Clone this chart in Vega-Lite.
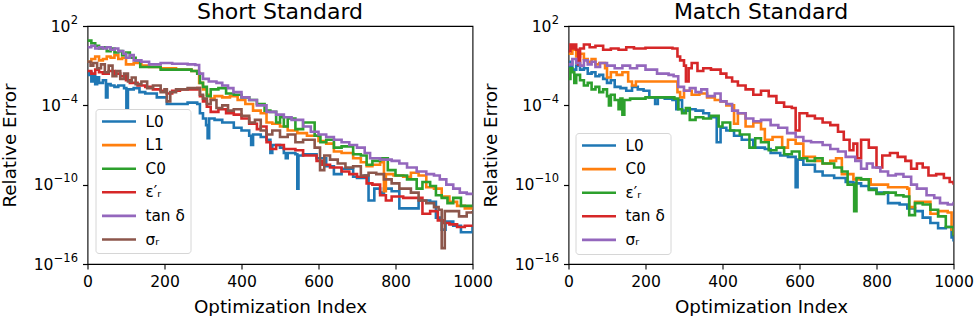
{
"$schema": "https://vega.github.io/schema/vega-lite/v6.json",
"autosize": {"type": "pad"},
"padding": {"left": -0.5, "top": 0, "right": 0, "bottom": 0},
"background": "white",
"spacing": 96,
"bounds": "flush",
"datasets": {
"short": [
{"s":"L0","i":0,"v":2e-2},{"s":"L0","i":5,"v":3.2e-2},{"s":"L0","i":10,"v":6.3e-3},{"s":"L0","i":15,"v":1.6e-2},{"s":"L0","i":20,"v":4e-3},{"s":"L0","i":25,"v":1.3e-2},{"s":"L0","i":30,"v":5e-3},{"s":"L0","i":40,"v":7.9e-3},{"s":"L0","i":48,"v":4e-4},{"s":"L0","i":52,"v":4e-3},{"s":"L0","i":60,"v":3.2e-3},{"s":"L0","i":70,"v":2.5e-3},{"s":"L0","i":80,"v":3.2e-3},{"s":"L0","i":95,"v":2e-3},{"s":"L0","i":101,"v":6.3e-5},{"s":"L0","i":105,"v":1.6e-3},{"s":"L0","i":120,"v":2e-3},{"s":"L0","i":135,"v":1e-3},{"s":"L0","i":150,"v":7.9e-4},{"s":"L0","i":180,"v":4e-4},{"s":"L0","i":206,"v":1.26e-4},{"s":"L0","i":230,"v":1.26e-4},{"s":"L0","i":260,"v":1.6e-4},{"s":"L0","i":285,"v":1.26e-4},{"s":"L0","i":292,"v":2.5e-5},{"s":"L0","i":300,"v":1e-5},{"s":"L0","i":308,"v":3.2e-6},{"s":"L0","i":312,"v":3.2e-7},{"s":"L0","i":316,"v":1e-5},{"s":"L0","i":330,"v":7.9e-6},{"s":"L0","i":350,"v":5e-6},{"s":"L0","i":380,"v":2e-6},{"s":"L0","i":400,"v":1.26e-6},{"s":"L0","i":420,"v":5e-7},{"s":"L0","i":425,"v":1e-7},{"s":"L0","i":430,"v":6.3e-7},{"s":"L0","i":450,"v":4e-7},{"s":"L0","i":465,"v":2.5e-7},{"s":"L0","i":475,"v":2.5e-8},{"s":"L0","i":480,"v":1e-7},{"s":"L0","i":500,"v":6.3e-8},{"s":"L0","i":510,"v":2.5e-8},{"s":"L0","i":515,"v":1e-8},{"s":"L0","i":520,"v":2.5e-8},{"s":"L0","i":540,"v":2e-8},{"s":"L0","i":545,"v":5e-11},{"s":"L0","i":548,"v":1.6e-8},{"s":"L0","i":560,"v":2e-8},{"s":"L0","i":595,"v":1e-8},{"s":"L0","i":620,"v":2.5e-9},{"s":"L0","i":640,"v":6.3e-10},{"s":"L0","i":660,"v":1.6e-9},{"s":"L0","i":690,"v":4e-10},{"s":"L0","i":700,"v":3.2e-10},{"s":"L0","i":720,"v":5e-10},{"s":"L0","i":730,"v":6.3e-12},{"s":"L0","i":745,"v":5e-11},{"s":"L0","i":760,"v":2.5e-11},{"s":"L0","i":770,"v":5e-11},{"s":"L0","i":790,"v":3.2e-11},{"s":"L0","i":810,"v":1.6e-12},{"s":"L0","i":835,"v":1.6e-12},{"s":"L0","i":860,"v":6.3e-12},{"s":"L0","i":890,"v":5e-12},{"s":"L0","i":905,"v":3.2e-13},{"s":"L0","i":920,"v":4e-14},{"s":"L0","i":930,"v":1.6e-13},{"s":"L0","i":950,"v":7.9e-14},{"s":"L0","i":970,"v":2.5e-14},{"s":"L0","i":990,"v":2.5e-14},{"s":"L0","i":1000,"v":6.3e-14},
{"s":"L1","i":0,"v":2e-1},{"s":"L1","i":10,"v":3.2e-1},{"s":"L1","i":20,"v":5e-1},{"s":"L1","i":30,"v":2.5e-1},{"s":"L1","i":40,"v":3.2e-1},{"s":"L1","i":50,"v":5e-1},{"s":"L1","i":60,"v":4e-1},{"s":"L1","i":70,"v":6.3e-1},{"s":"L1","i":80,"v":3.2e-1},{"s":"L1","i":90,"v":4e-1},{"s":"L1","i":100,"v":1.26e-1},{"s":"L1","i":120,"v":1.6e-1},{"s":"L1","i":140,"v":1e-1},{"s":"L1","i":160,"v":7.9e-2},{"s":"L1","i":190,"v":6.3e-2},{"s":"L1","i":230,"v":5e-2},{"s":"L1","i":270,"v":4e-2},{"s":"L1","i":285,"v":3.2e-2},{"s":"L1","i":290,"v":5e-3},{"s":"L1","i":300,"v":1.6e-3},{"s":"L1","i":310,"v":6.3e-4},{"s":"L1","i":320,"v":3.2e-4},{"s":"L1","i":330,"v":5e-4},{"s":"L1","i":350,"v":4e-4},{"s":"L1","i":370,"v":5e-4},{"s":"L1","i":390,"v":2.5e-4},{"s":"L1","i":410,"v":1.26e-4},{"s":"L1","i":430,"v":4e-5},{"s":"L1","i":450,"v":2.5e-5},{"s":"L1","i":465,"v":5e-6},{"s":"L1","i":480,"v":4e-6},{"s":"L1","i":500,"v":2.5e-6},{"s":"L1","i":520,"v":1.26e-6},{"s":"L1","i":545,"v":7.9e-7},{"s":"L1","i":570,"v":5e-7},{"s":"L1","i":600,"v":2e-7},{"s":"L1","i":620,"v":1.26e-7},{"s":"L1","i":640,"v":3.2e-8},{"s":"L1","i":660,"v":2.5e-8},{"s":"L1","i":690,"v":1e-8},{"s":"L1","i":710,"v":5e-9},{"s":"L1","i":725,"v":2.5e-9},{"s":"L1","i":740,"v":3.2e-9},{"s":"L1","i":760,"v":5e-9},{"s":"L1","i":770,"v":3.2e-11},{"s":"L1","i":775,"v":6.3e-10},{"s":"L1","i":795,"v":5e-10},{"s":"L1","i":820,"v":4e-10},{"s":"L1","i":840,"v":7.9e-10},{"s":"L1","i":860,"v":5e-10},{"s":"L1","i":880,"v":6.3e-11},{"s":"L1","i":900,"v":5e-11},{"s":"L1","i":920,"v":1.26e-11},{"s":"L1","i":940,"v":5e-12},{"s":"L1","i":960,"v":2.5e-12},{"s":"L1","i":980,"v":1.6e-12},{"s":"L1","i":1000,"v":1.26e-12},
{"s":"C0","i":0,"v":7.9},{"s":"C0","i":10,"v":5},{"s":"C0","i":20,"v":3.2},{"s":"C0","i":30,"v":2},{"s":"C0","i":40,"v":2.5},{"s":"C0","i":50,"v":1.26},{"s":"C0","i":60,"v":2},{"s":"C0","i":70,"v":1},{"s":"C0","i":80,"v":1.26},{"s":"C0","i":90,"v":6.3e-1},{"s":"C0","i":100,"v":1},{"s":"C0","i":110,"v":4e-1},{"s":"C0","i":125,"v":2.5e-1},{"s":"C0","i":137,"v":7.9e-2},{"s":"C0","i":160,"v":7.9e-2},{"s":"C0","i":190,"v":5e-2},{"s":"C0","i":230,"v":5e-2},{"s":"C0","i":270,"v":4e-2},{"s":"C0","i":285,"v":2.5e-2},{"s":"C0","i":292,"v":5e-3},{"s":"C0","i":300,"v":2.5e-3},{"s":"C0","i":310,"v":5e-4},{"s":"C0","i":320,"v":1.6e-3},{"s":"C0","i":340,"v":2e-3},{"s":"C0","i":360,"v":7.9e-4},{"s":"C0","i":380,"v":6.3e-4},{"s":"C0","i":400,"v":4e-4},{"s":"C0","i":420,"v":2.5e-4},{"s":"C0","i":440,"v":1.26e-4},{"s":"C0","i":460,"v":4e-5},{"s":"C0","i":475,"v":3.2e-5},{"s":"C0","i":490,"v":5e-6},{"s":"C0","i":500,"v":1.26e-5},{"s":"C0","i":510,"v":2.5e-6},{"s":"C0","i":520,"v":1e-5},{"s":"C0","i":540,"v":1.6e-6},{"s":"C0","i":560,"v":5e-6},{"s":"C0","i":590,"v":5e-7},{"s":"C0","i":605,"v":1.6e-7},{"s":"C0","i":620,"v":2.5e-7},{"s":"C0","i":640,"v":6.3e-8},{"s":"C0","i":660,"v":7.9e-8},{"s":"C0","i":690,"v":2e-8},{"s":"C0","i":710,"v":1.6e-8},{"s":"C0","i":725,"v":3.2e-9},{"s":"C0","i":740,"v":6.3e-9},{"s":"C0","i":760,"v":1e-8},{"s":"C0","i":780,"v":1.26e-9},{"s":"C0","i":800,"v":5e-10},{"s":"C0","i":830,"v":2.5e-10},{"s":"C0","i":855,"v":5e-11},{"s":"C0","i":870,"v":1.6e-10},{"s":"C0","i":890,"v":7.9e-11},{"s":"C0","i":905,"v":1.6e-11},{"s":"C0","i":920,"v":1e-11},{"s":"C0","i":935,"v":4e-12},{"s":"C0","i":950,"v":1e-11},{"s":"C0","i":970,"v":2.5e-12},{"s":"C0","i":1000,"v":2.5e-12},
{"s":"eps","i":0,"v":4e-2},{"s":"eps","i":10,"v":2.5e-2},{"s":"eps","i":20,"v":5e-2},{"s":"eps","i":30,"v":3.2e-2},{"s":"eps","i":40,"v":2.5e-2},{"s":"eps","i":55,"v":4e-2},{"s":"eps","i":70,"v":2.5e-2},{"s":"eps","i":85,"v":1.6e-2},{"s":"eps","i":100,"v":7.9e-3},{"s":"eps","i":110,"v":5e-3},{"s":"eps","i":130,"v":3.2e-3},{"s":"eps","i":150,"v":2.5e-3},{"s":"eps","i":170,"v":1.6e-3},{"s":"eps","i":190,"v":1.26e-3},{"s":"eps","i":206,"v":7.9e-4},{"s":"eps","i":220,"v":1.26e-3},{"s":"eps","i":240,"v":1.6e-3},{"s":"eps","i":260,"v":1.6e-3},{"s":"eps","i":285,"v":2e-3},{"s":"eps","i":292,"v":5e-4},{"s":"eps","i":300,"v":2e-4},{"s":"eps","i":310,"v":7.9e-5},{"s":"eps","i":320,"v":3.2e-5},{"s":"eps","i":340,"v":5e-5},{"s":"eps","i":360,"v":2.5e-5},{"s":"eps","i":380,"v":2e-5},{"s":"eps","i":400,"v":1e-5},{"s":"eps","i":420,"v":4e-6},{"s":"eps","i":440,"v":1.6e-6},{"s":"eps","i":450,"v":2.5e-6},{"s":"eps","i":465,"v":1.6e-7},{"s":"eps","i":475,"v":5e-8},{"s":"eps","i":490,"v":1e-7},{"s":"eps","i":510,"v":5e-8},{"s":"eps","i":540,"v":4e-8},{"s":"eps","i":560,"v":1.6e-8},{"s":"eps","i":595,"v":6.3e-9},{"s":"eps","i":610,"v":3.2e-9},{"s":"eps","i":630,"v":2e-9},{"s":"eps","i":660,"v":1e-9},{"s":"eps","i":680,"v":6.3e-10},{"s":"eps","i":700,"v":4e-10},{"s":"eps","i":725,"v":1.26e-10},{"s":"eps","i":740,"v":1e-10},{"s":"eps","i":760,"v":1.6e-11},{"s":"eps","i":775,"v":6.3e-12},{"s":"eps","i":790,"v":1.26e-11},{"s":"eps","i":820,"v":1e-11},{"s":"eps","i":850,"v":1e-11},{"s":"eps","i":870,"v":6.3e-13},{"s":"eps","i":890,"v":1e-12},{"s":"eps","i":910,"v":2e-13},{"s":"eps","i":925,"v":1.26e-13},{"s":"eps","i":940,"v":1e-13},{"s":"eps","i":960,"v":6.3e-14},{"s":"eps","i":980,"v":7.9e-14},{"s":"eps","i":1000,"v":6.3e-14},
{"s":"tan","i":0,"v":2.5},{"s":"tan","i":10,"v":3.2},{"s":"tan","i":20,"v":2},{"s":"tan","i":30,"v":2.5},{"s":"tan","i":40,"v":2},{"s":"tan","i":50,"v":2.5},{"s":"tan","i":60,"v":1.6},{"s":"tan","i":70,"v":2},{"s":"tan","i":80,"v":1.26},{"s":"tan","i":93,"v":7.9e-1},{"s":"tan","i":100,"v":4e-1},{"s":"tan","i":110,"v":6.3e-1},{"s":"tan","i":120,"v":2.5e-1},{"s":"tan","i":140,"v":2e-1},{"s":"tan","i":160,"v":1.26e-1},{"s":"tan","i":190,"v":1.6e-1},{"s":"tan","i":220,"v":1.4e-1},{"s":"tan","i":260,"v":1.26e-1},{"s":"tan","i":280,"v":1.12e-1},{"s":"tan","i":290,"v":2.5e-2},{"s":"tan","i":300,"v":1e-2},{"s":"tan","i":315,"v":6.3e-3},{"s":"tan","i":335,"v":5e-3},{"s":"tan","i":350,"v":3.2e-3},{"s":"tan","i":365,"v":2e-3},{"s":"tan","i":379,"v":1e-3},{"s":"tan","i":400,"v":4e-4},{"s":"tan","i":420,"v":2.5e-4},{"s":"tan","i":440,"v":1e-4},{"s":"tan","i":465,"v":3.2e-5},{"s":"tan","i":490,"v":2e-5},{"s":"tan","i":510,"v":1.26e-5},{"s":"tan","i":530,"v":7.9e-6},{"s":"tan","i":560,"v":2.5e-6},{"s":"tan","i":580,"v":1e-6},{"s":"tan","i":600,"v":6.3e-7},{"s":"tan","i":620,"v":4e-7},{"s":"tan","i":640,"v":2.5e-7},{"s":"tan","i":660,"v":1.6e-7},{"s":"tan","i":680,"v":1e-7},{"s":"tan","i":700,"v":6.3e-8},{"s":"tan","i":720,"v":2.5e-8},{"s":"tan","i":734,"v":1e-8},{"s":"tan","i":760,"v":7.9e-9},{"s":"tan","i":790,"v":6.3e-9},{"s":"tan","i":810,"v":4e-9},{"s":"tan","i":830,"v":2e-9},{"s":"tan","i":855,"v":1e-9},{"s":"tan","i":880,"v":6.3e-10},{"s":"tan","i":900,"v":5e-10},{"s":"tan","i":915,"v":2.5e-10},{"s":"tan","i":932,"v":1e-10},{"s":"tan","i":950,"v":5e-11},{"s":"tan","i":967,"v":2.5e-11},{"s":"tan","i":985,"v":2e-11},{"s":"tan","i":1000,"v":1.6e-11},
{"s":"sig","i":0,"v":2e-1},{"s":"sig","i":8,"v":1e-1},{"s":"sig","i":15,"v":1.6e-1},{"s":"sig","i":25,"v":6.3e-2},{"s":"sig","i":35,"v":1.26e-1},{"s":"sig","i":45,"v":3.2e-2},{"s":"sig","i":55,"v":1e-1},{"s":"sig","i":65,"v":1.6e-2},{"s":"sig","i":75,"v":4e-2},{"s":"sig","i":85,"v":1e-2},{"s":"sig","i":95,"v":2.5e-2},{"s":"sig","i":105,"v":6.3e-3},{"s":"sig","i":115,"v":1.26e-2},{"s":"sig","i":125,"v":4e-3},{"s":"sig","i":140,"v":6.3e-3},{"s":"sig","i":155,"v":2e-3},{"s":"sig","i":170,"v":3.2e-3},{"s":"sig","i":190,"v":1e-3},{"s":"sig","i":200,"v":1.6e-3},{"s":"sig","i":206,"v":2e-4},{"s":"sig","i":215,"v":1e-3},{"s":"sig","i":230,"v":1.6e-3},{"s":"sig","i":260,"v":2e-3},{"s":"sig","i":285,"v":2e-3},{"s":"sig","i":292,"v":6.3e-4},{"s":"sig","i":300,"v":3.2e-4},{"s":"sig","i":310,"v":1.26e-4},{"s":"sig","i":320,"v":2.5e-4},{"s":"sig","i":335,"v":6.3e-5},{"s":"sig","i":350,"v":1e-4},{"s":"sig","i":365,"v":4e-5},{"s":"sig","i":380,"v":5e-5},{"s":"sig","i":400,"v":1.6e-5},{"s":"sig","i":420,"v":5e-6},{"s":"sig","i":435,"v":7.9e-6},{"s":"sig","i":450,"v":1.26e-6},{"s":"sig","i":465,"v":6.3e-7},{"s":"sig","i":480,"v":1.26e-6},{"s":"sig","i":500,"v":4e-7},{"s":"sig","i":520,"v":6.3e-7},{"s":"sig","i":540,"v":1.6e-7},{"s":"sig","i":560,"v":2.5e-7},{"s":"sig","i":590,"v":6.3e-8},{"s":"sig","i":604,"v":1.26e-9},{"s":"sig","i":615,"v":1.6e-8},{"s":"sig","i":630,"v":7.9e-9},{"s":"sig","i":650,"v":4e-9},{"s":"sig","i":670,"v":2e-9},{"s":"sig","i":690,"v":2.5e-9},{"s":"sig","i":710,"v":5e-10},{"s":"sig","i":730,"v":7.9e-10},{"s":"sig","i":750,"v":6.3e-10},{"s":"sig","i":770,"v":2.5e-10},{"s":"sig","i":790,"v":1.26e-10},{"s":"sig","i":810,"v":5e-11},{"s":"sig","i":840,"v":2.5e-11},{"s":"sig","i":860,"v":6.3e-12},{"s":"sig","i":880,"v":4e-12},{"s":"sig","i":900,"v":2e-12},{"s":"sig","i":912,"v":1.26e-12},{"s":"sig","i":920,"v":1.6e-15},{"s":"sig","i":928,"v":1e-12},{"s":"sig","i":945,"v":1e-12},{"s":"sig","i":965,"v":4e-13},{"s":"sig","i":985,"v":7.9e-13},{"s":"sig","i":1000,"v":1e-12}
],
"match": [
{"s":"L0","i":0,"v":7.9e-2},{"s":"L0","i":5,"v":2e-1},{"s":"L0","i":10,"v":5e-2},{"s":"L0","i":20,"v":1e-1},{"s":"L0","i":30,"v":5e-2},{"s":"L0","i":40,"v":6.3e-2},{"s":"L0","i":50,"v":2.5e-2},{"s":"L0","i":60,"v":3.2e-2},{"s":"L0","i":70,"v":1.6e-2},{"s":"L0","i":80,"v":2e-2},{"s":"L0","i":90,"v":1e-2},{"s":"L0","i":100,"v":5e-3},{"s":"L0","i":110,"v":7.9e-3},{"s":"L0","i":120,"v":2.5e-3},{"s":"L0","i":135,"v":2e-3},{"s":"L0","i":150,"v":1.26e-3},{"s":"L0","i":165,"v":2.5e-3},{"s":"L0","i":180,"v":1.6e-3},{"s":"L0","i":195,"v":1.26e-3},{"s":"L0","i":210,"v":4e-4},{"s":"L0","i":225,"v":1.26e-4},{"s":"L0","i":232,"v":4e-4},{"s":"L0","i":250,"v":3.2e-4},{"s":"L0","i":270,"v":2.5e-4},{"s":"L0","i":280,"v":5e-5},{"s":"L0","i":285,"v":2.5e-4},{"s":"L0","i":295,"v":4e-5},{"s":"L0","i":310,"v":5e-5},{"s":"L0","i":330,"v":4e-5},{"s":"L0","i":350,"v":2.5e-5},{"s":"L0","i":365,"v":1.26e-5},{"s":"L0","i":385,"v":1.6e-7},{"s":"L0","i":395,"v":2e-6},{"s":"L0","i":410,"v":1.26e-6},{"s":"L0","i":430,"v":5e-7},{"s":"L0","i":450,"v":2.5e-7},{"s":"L0","i":480,"v":6.3e-8},{"s":"L0","i":510,"v":5e-8},{"s":"L0","i":525,"v":2.5e-8},{"s":"L0","i":550,"v":1.6e-8},{"s":"L0","i":570,"v":1.26e-8},{"s":"L0","i":590,"v":6.3e-11},{"s":"L0","i":595,"v":7.9e-9},{"s":"L0","i":610,"v":3.2e-9},{"s":"L0","i":640,"v":1e-9},{"s":"L0","i":660,"v":5e-10},{"s":"L0","i":690,"v":3.2e-10},{"s":"L0","i":720,"v":1.6e-10},{"s":"L0","i":740,"v":1.26e-10},{"s":"L0","i":760,"v":7.9e-11},{"s":"L0","i":780,"v":5e-11},{"s":"L0","i":800,"v":2.5e-11},{"s":"L0","i":830,"v":4e-12},{"s":"L0","i":860,"v":3.2e-12},{"s":"L0","i":880,"v":1.6e-12},{"s":"L0","i":900,"v":1e-12},{"s":"L0","i":920,"v":3.2e-13},{"s":"L0","i":940,"v":1.26e-13},{"s":"L0","i":960,"v":5e-14},{"s":"L0","i":980,"v":6.3e-14},{"s":"L0","i":995,"v":1e-14},{"s":"L0","i":1000,"v":5e-15},
{"s":"C0","i":0,"v":7.9e-1},{"s":"C0","i":10,"v":1.6},{"s":"C0","i":20,"v":5e-1},{"s":"C0","i":30,"v":7.9e-1},{"s":"C0","i":40,"v":3.2e-1},{"s":"C0","i":50,"v":2e-1},{"s":"C0","i":60,"v":3.2e-1},{"s":"C0","i":70,"v":1.26e-1},{"s":"C0","i":80,"v":1.6e-1},{"s":"C0","i":95,"v":6.3e-2},{"s":"C0","i":100,"v":1.26e-2},{"s":"C0","i":110,"v":3.2e-2},{"s":"C0","i":125,"v":2e-2},{"s":"C0","i":140,"v":3.2e-2},{"s":"C0","i":155,"v":6.3e-3},{"s":"C0","i":165,"v":3.2e-3},{"s":"C0","i":175,"v":6.3e-3},{"s":"C0","i":195,"v":6.3e-3},{"s":"C0","i":250,"v":6.3e-3},{"s":"C0","i":275,"v":6.3e-3},{"s":"C0","i":283,"v":1e-3},{"s":"C0","i":290,"v":4e-4},{"s":"C0","i":300,"v":1.26e-3},{"s":"C0","i":320,"v":6.3e-4},{"s":"C0","i":340,"v":7.9e-4},{"s":"C0","i":360,"v":4e-4},{"s":"C0","i":380,"v":2.5e-4},{"s":"C0","i":395,"v":2e-4},{"s":"C0","i":410,"v":1e-4},{"s":"C0","i":430,"v":4e-6},{"s":"C0","i":440,"v":2.5e-5},{"s":"C0","i":460,"v":2.5e-6},{"s":"C0","i":480,"v":5e-6},{"s":"C0","i":500,"v":1.6e-6},{"s":"C0","i":510,"v":2.5e-7},{"s":"C0","i":530,"v":4e-7},{"s":"C0","i":555,"v":6.3e-8},{"s":"C0","i":570,"v":2.5e-7},{"s":"C0","i":590,"v":1.26e-7},{"s":"C0","i":610,"v":1.26e-8},{"s":"C0","i":640,"v":6.3e-9},{"s":"C0","i":660,"v":4e-9},{"s":"C0","i":680,"v":6.3e-9},{"s":"C0","i":695,"v":1e-8},{"s":"C0","i":710,"v":6.3e-10},{"s":"C0","i":740,"v":2.5e-10},{"s":"C0","i":760,"v":2.5e-10},{"s":"C0","i":785,"v":1e-10},{"s":"C0","i":810,"v":1e-10},{"s":"C0","i":830,"v":6.3e-11},{"s":"C0","i":880,"v":5e-11},{"s":"C0","i":885,"v":2e-12},{"s":"C0","i":900,"v":5e-12},{"s":"C0","i":920,"v":5e-12},{"s":"C0","i":940,"v":6.3e-13},{"s":"C0","i":960,"v":1e-12},{"s":"C0","i":985,"v":7.9e-13},{"s":"C0","i":995,"v":4e-14},{"s":"C0","i":1000,"v":1.6e-14},
{"s":"eps","i":0,"v":1e-2},{"s":"eps","i":5,"v":6.3e-2},{"s":"eps","i":10,"v":3.2e-2},{"s":"eps","i":15,"v":5e-3},{"s":"eps","i":20,"v":2e-2},{"s":"eps","i":30,"v":7.9e-3},{"s":"eps","i":40,"v":3.2e-3},{"s":"eps","i":50,"v":5e-3},{"s":"eps","i":60,"v":1.6e-3},{"s":"eps","i":70,"v":2.5e-3},{"s":"eps","i":80,"v":1e-3},{"s":"eps","i":90,"v":1.6e-3},{"s":"eps","i":100,"v":5e-4},{"s":"eps","i":105,"v":1e-4},{"s":"eps","i":110,"v":6.3e-4},{"s":"eps","i":120,"v":2.5e-4},{"s":"eps","i":130,"v":5e-5},{"s":"eps","i":135,"v":3.2e-4},{"s":"eps","i":140,"v":2e-5},{"s":"eps","i":145,"v":2.5e-4},{"s":"eps","i":160,"v":3.2e-4},{"s":"eps","i":200,"v":4e-4},{"s":"eps","i":250,"v":4e-4},{"s":"eps","i":275,"v":3.2e-4},{"s":"eps","i":285,"v":5e-5},{"s":"eps","i":295,"v":2.5e-5},{"s":"eps","i":305,"v":6.3e-5},{"s":"eps","i":315,"v":7.9e-6},{"s":"eps","i":330,"v":1.26e-5},{"s":"eps","i":350,"v":1e-5},{"s":"eps","i":370,"v":1.6e-5},{"s":"eps","i":390,"v":2.5e-6},{"s":"eps","i":400,"v":5e-6},{"s":"eps","i":420,"v":1.26e-6},{"s":"eps","i":445,"v":6.3e-7},{"s":"eps","i":470,"v":6.3e-8},{"s":"eps","i":485,"v":3.2e-7},{"s":"eps","i":500,"v":1.6e-7},{"s":"eps","i":520,"v":4e-8},{"s":"eps","i":540,"v":6.3e-8},{"s":"eps","i":560,"v":2e-8},{"s":"eps","i":580,"v":3.2e-8},{"s":"eps","i":600,"v":1e-8},{"s":"eps","i":620,"v":6.3e-9},{"s":"eps","i":640,"v":1e-8},{"s":"eps","i":660,"v":4e-9},{"s":"eps","i":690,"v":2e-9},{"s":"eps","i":710,"v":1e-9},{"s":"eps","i":725,"v":1e-10},{"s":"eps","i":742,"v":1e-12},{"s":"eps","i":748,"v":3.2e-10},{"s":"eps","i":760,"v":2.5e-10},{"s":"eps","i":780,"v":4e-11},{"s":"eps","i":800,"v":2e-11},{"s":"eps","i":820,"v":2.5e-11},{"s":"eps","i":850,"v":1.6e-11},{"s":"eps","i":870,"v":1.26e-11},{"s":"eps","i":885,"v":5e-13},{"s":"eps","i":900,"v":4e-12},{"s":"eps","i":920,"v":3.2e-12},{"s":"eps","i":940,"v":1.26e-12},{"s":"eps","i":960,"v":4e-13},{"s":"eps","i":980,"v":6.3e-14},{"s":"eps","i":1000,"v":1.26e-14},
{"s":"tan","i":0,"v":1.26},{"s":"tan","i":5,"v":4},{"s":"tan","i":10,"v":2},{"s":"tan","i":15,"v":4},{"s":"tan","i":20,"v":1.6},{"s":"tan","i":25,"v":1.26e-1},{"s":"tan","i":30,"v":2},{"s":"tan","i":40,"v":4},{"s":"tan","i":55,"v":2.5},{"s":"tan","i":70,"v":3.2},{"s":"tan","i":90,"v":1.6},{"s":"tan","i":110,"v":2},{"s":"tan","i":130,"v":1.6},{"s":"tan","i":150,"v":2.5},{"s":"tan","i":170,"v":2},{"s":"tan","i":200,"v":2.24},{"s":"tan","i":240,"v":2.24},{"s":"tan","i":270,"v":2},{"s":"tan","i":283,"v":5e-1},{"s":"tan","i":290,"v":2.5e-1},{"s":"tan","i":300,"v":1e-1},{"s":"tan","i":305,"v":6.3e-3},{"s":"tan","i":312,"v":6.3e-2},{"s":"tan","i":320,"v":1.6e-1},{"s":"tan","i":335,"v":4e-2},{"s":"tan","i":350,"v":6.3e-2},{"s":"tan","i":370,"v":5e-2},{"s":"tan","i":395,"v":2.5e-2},{"s":"tan","i":410,"v":1.26e-2},{"s":"tan","i":425,"v":6.3e-3},{"s":"tan","i":440,"v":3.2e-3},{"s":"tan","i":460,"v":1.6e-3},{"s":"tan","i":480,"v":6.3e-4},{"s":"tan","i":500,"v":1.26e-3},{"s":"tan","i":520,"v":5e-4},{"s":"tan","i":540,"v":1.6e-4},{"s":"tan","i":560,"v":7.9e-5},{"s":"tan","i":580,"v":6.3e-5},{"s":"tan","i":590,"v":1.26e-6},{"s":"tan","i":600,"v":2.5e-5},{"s":"tan","i":620,"v":1.6e-5},{"s":"tan","i":640,"v":1e-5},{"s":"tan","i":660,"v":5e-6},{"s":"tan","i":680,"v":3.2e-6},{"s":"tan","i":700,"v":1e-6},{"s":"tan","i":715,"v":2.5e-7},{"s":"tan","i":730,"v":4e-8},{"s":"tan","i":740,"v":1.26e-7},{"s":"tan","i":750,"v":1e-8},{"s":"tan","i":760,"v":2.5e-7},{"s":"tan","i":780,"v":6.3e-8},{"s":"tan","i":800,"v":2e-9},{"s":"tan","i":815,"v":1.6e-8},{"s":"tan","i":835,"v":2.5e-8},{"s":"tan","i":855,"v":1.26e-8},{"s":"tan","i":875,"v":6.3e-9},{"s":"tan","i":890,"v":1.6e-9},{"s":"tan","i":905,"v":4e-9},{"s":"tan","i":920,"v":2e-9},{"s":"tan","i":935,"v":5e-10},{"s":"tan","i":955,"v":6.3e-10},{"s":"tan","i":975,"v":3.2e-10},{"s":"tan","i":990,"v":1.6e-10},{"s":"tan","i":1000,"v":1e-10},
{"s":"sig","i":0,"v":1.26e-1},{"s":"sig","i":10,"v":3.2e-1},{"s":"sig","i":20,"v":1.6e-1},{"s":"sig","i":30,"v":1e-1},{"s":"sig","i":40,"v":2.5e-1},{"s":"sig","i":50,"v":1.26e-1},{"s":"sig","i":60,"v":2e-1},{"s":"sig","i":70,"v":7.9e-2},{"s":"sig","i":82,"v":1.6e-1},{"s":"sig","i":100,"v":1e-1},{"s":"sig","i":120,"v":6.3e-2},{"s":"sig","i":140,"v":1e-1},{"s":"sig","i":160,"v":6.3e-2},{"s":"sig","i":178,"v":1e-1},{"s":"sig","i":200,"v":5e-2},{"s":"sig","i":230,"v":2.5e-2},{"s":"sig","i":260,"v":2e-2},{"s":"sig","i":273,"v":1.6e-2},{"s":"sig","i":285,"v":2.5e-3},{"s":"sig","i":300,"v":1.26e-3},{"s":"sig","i":315,"v":2e-3},{"s":"sig","i":330,"v":1e-3},{"s":"sig","i":345,"v":1.6e-3},{"s":"sig","i":360,"v":5e-4},{"s":"sig","i":380,"v":7.9e-4},{"s":"sig","i":395,"v":2e-4},{"s":"sig","i":410,"v":1.26e-4},{"s":"sig","i":425,"v":4e-5},{"s":"sig","i":440,"v":2.5e-5},{"s":"sig","i":460,"v":1e-5},{"s":"sig","i":480,"v":6.3e-6},{"s":"sig","i":500,"v":7.9e-6},{"s":"sig","i":525,"v":3.2e-6},{"s":"sig","i":545,"v":2e-6},{"s":"sig","i":568,"v":7.9e-7},{"s":"sig","i":590,"v":4e-7},{"s":"sig","i":610,"v":2e-7},{"s":"sig","i":630,"v":1.6e-7},{"s":"sig","i":660,"v":1e-7},{"s":"sig","i":680,"v":5e-8},{"s":"sig","i":700,"v":3.2e-8},{"s":"sig","i":720,"v":1.26e-8},{"s":"sig","i":745,"v":6.3e-9},{"s":"sig","i":760,"v":1.6e-9},{"s":"sig","i":775,"v":4e-9},{"s":"sig","i":790,"v":2e-9},{"s":"sig","i":810,"v":1e-9},{"s":"sig","i":830,"v":5e-10},{"s":"sig","i":850,"v":6.3e-10},{"s":"sig","i":870,"v":4e-10},{"s":"sig","i":890,"v":1e-10},{"s":"sig","i":905,"v":5e-11},{"s":"sig","i":930,"v":1.6e-11},{"s":"sig","i":950,"v":1e-11},{"s":"sig","i":965,"v":4e-12},{"s":"sig","i":985,"v":3.2e-12},{"s":"sig","i":1000,"v":5e-12}
]
},
"hconcat": [
{
"width": 385, "height": 238,
"title": {"text": "Short Standard"},
"data": {"name": "short"},
"encoding": {
"x": {"field": "i", "type": "quantitative", "scale": {"domain": [0, 1000], "nice": false}, "axis": {"title": "Optimization Index", "values": [0, 200, 400, 600, 800, 1000], "format": "d"}}
},
"layer": [
{
"mark": {"type": "line", "interpolate": "step-after", "strokeWidth": 2.6, "clip": true},
"encoding": {
"y": {"field": "v", "type": "quantitative", "scale": {"type": "log", "domain": [1e-16, 100], "nice": false}, "axis": {"orient": "left", "title": "Relative Error", "values": [1e-16, 1e-10, 1e-4, 100], "labelExpr": "'10'", "labelPadding": {"condition": [{"test": "datum.value > 1", "value": 12.5}, {"test": "datum.value > 1e-6", "value": 22}], "value": 29.5}}},
"color": {"field": "s", "type": "nominal", "scale": {"domain": ["L0", "L1", "C0", "eps", "tan", "sig"], "range": ["#1f77b4", "#ff7f0e", "#2ca02c", "#d62728", "#9467bd", "#8c564b"]}, "legend": {"title": null, "orient": "none", "legendX": 8, "legendY": 83, "labelExpr": "datum.value == 'eps' ? 'ε′ᵣ' : datum.value == 'tan' ? 'tan δ' : datum.value == 'sig' ? 'σᵣ' : datum.value"}}
}
},
{
"mark": {"type": "line", "strokeOpacity": 0},
"encoding": {
"y": {"field": "v", "type": "quantitative", "scale": {"type": "log", "domain": [1e-16, 100], "nice": false}, "axis": {"orient": "left", "title": null, "values": [1e-16, 1e-10, 1e-4, 100], "labelExpr": "datum.value > 1 ? '2' : datum.value > 1e-6 ? '−4' : datum.value > 1e-12 ? '−10' : '−16'", "labelFontSize": 11.5, "labelOffset": -6, "labelPadding": 5}}
}
}
],
"resolve": {"axis": {"y": "independent"}}
},
{
"width": 385, "height": 238,
"title": {"text": "Match Standard"},
"data": {"name": "match"},
"encoding": {
"x": {"field": "i", "type": "quantitative", "scale": {"domain": [0, 1000], "nice": false}, "axis": {"title": "Optimization Index", "values": [0, 200, 400, 600, 800, 1000], "format": "d"}}
},
"layer": [
{
"mark": {"type": "line", "interpolate": "step-after", "strokeWidth": 2.6, "clip": true},
"encoding": {
"y": {"field": "v", "type": "quantitative", "scale": {"type": "log", "domain": [1e-16, 100], "nice": false}, "axis": {"orient": "left", "title": "Relative Error", "values": [1e-16, 1e-10, 1e-4, 100], "labelExpr": "'10'", "labelPadding": {"condition": [{"test": "datum.value > 1", "value": 12.5}, {"test": "datum.value > 1e-6", "value": 22}], "value": 29.5}}},
"color": {"field": "s", "type": "nominal", "scale": {"domain": ["L0", "C0", "eps", "tan", "sig"], "range": ["#1f77b4", "#ff7f0e", "#2ca02c", "#d62728", "#9467bd"]}, "legend": {"title": null, "orient": "none", "legendX": 7, "legendY": 107, "labelExpr": "datum.value == 'eps' ? 'ε′ᵣ' : datum.value == 'tan' ? 'tan δ' : datum.value == 'sig' ? 'σᵣ' : datum.value"}}
}
},
{
"mark": {"type": "line", "strokeOpacity": 0},
"encoding": {
"y": {"field": "v", "type": "quantitative", "scale": {"type": "log", "domain": [1e-16, 100], "nice": false}, "axis": {"orient": "left", "title": null, "values": [1e-16, 1e-10, 1e-4, 100], "labelExpr": "datum.value > 1 ? '2' : datum.value > 1e-6 ? '−4' : datum.value > 1e-12 ? '−10' : '−16'", "labelFontSize": 11.5, "labelOffset": -6, "labelPadding": 5}}
}
}
],
"resolve": {"axis": {"y": "independent"}}
}
],
"resolve": {"scale": {"color": "independent"}},
"config": {
"font": "DejaVu Sans",
"view": {"stroke": "#000", "strokeWidth": 1.1},
"axis": {"grid": false, "domain": false, "ticks": true, "tickSize": 5, "tickWidth": 1.1, "tickColor": "#000", "labelFont": "DejaVu Sans", "labelFontSize": 15.6, "labelColor": "#000", "labelPadding": 5, "labelFlush": false, "labelOverlap": false, "titleFont": "DejaVu Sans", "titleFontSize": 18.3, "titleFontWeight": "normal", "titleColor": "#000"},
"axisY": {"titleX": -72, "titleY": 119, "titleBaseline": "alphabetic"},
"axisX": {"titleY": 48, "titleBaseline": "alphabetic"},
"legend": {"labelFont": "DejaVu Sans", "labelFontSize": 15.3, "labelColor": "#000", "symbolType": "stroke", "symbolSize": 1156, "symbolStrokeWidth": 2.6, "clipHeight": 15, "rowPadding": 7.6, "padding": 5, "fillColor": "rgba(255,255,255,0.8)", "strokeColor": "#d6d6d6", "cornerRadius": 3, "labelOffset": 8},
"title": {"font": "DejaVu Sans", "fontSize": 22, "fontWeight": "normal", "color": "#000", "baseline": "top", "offset": -10.4}
}
}
